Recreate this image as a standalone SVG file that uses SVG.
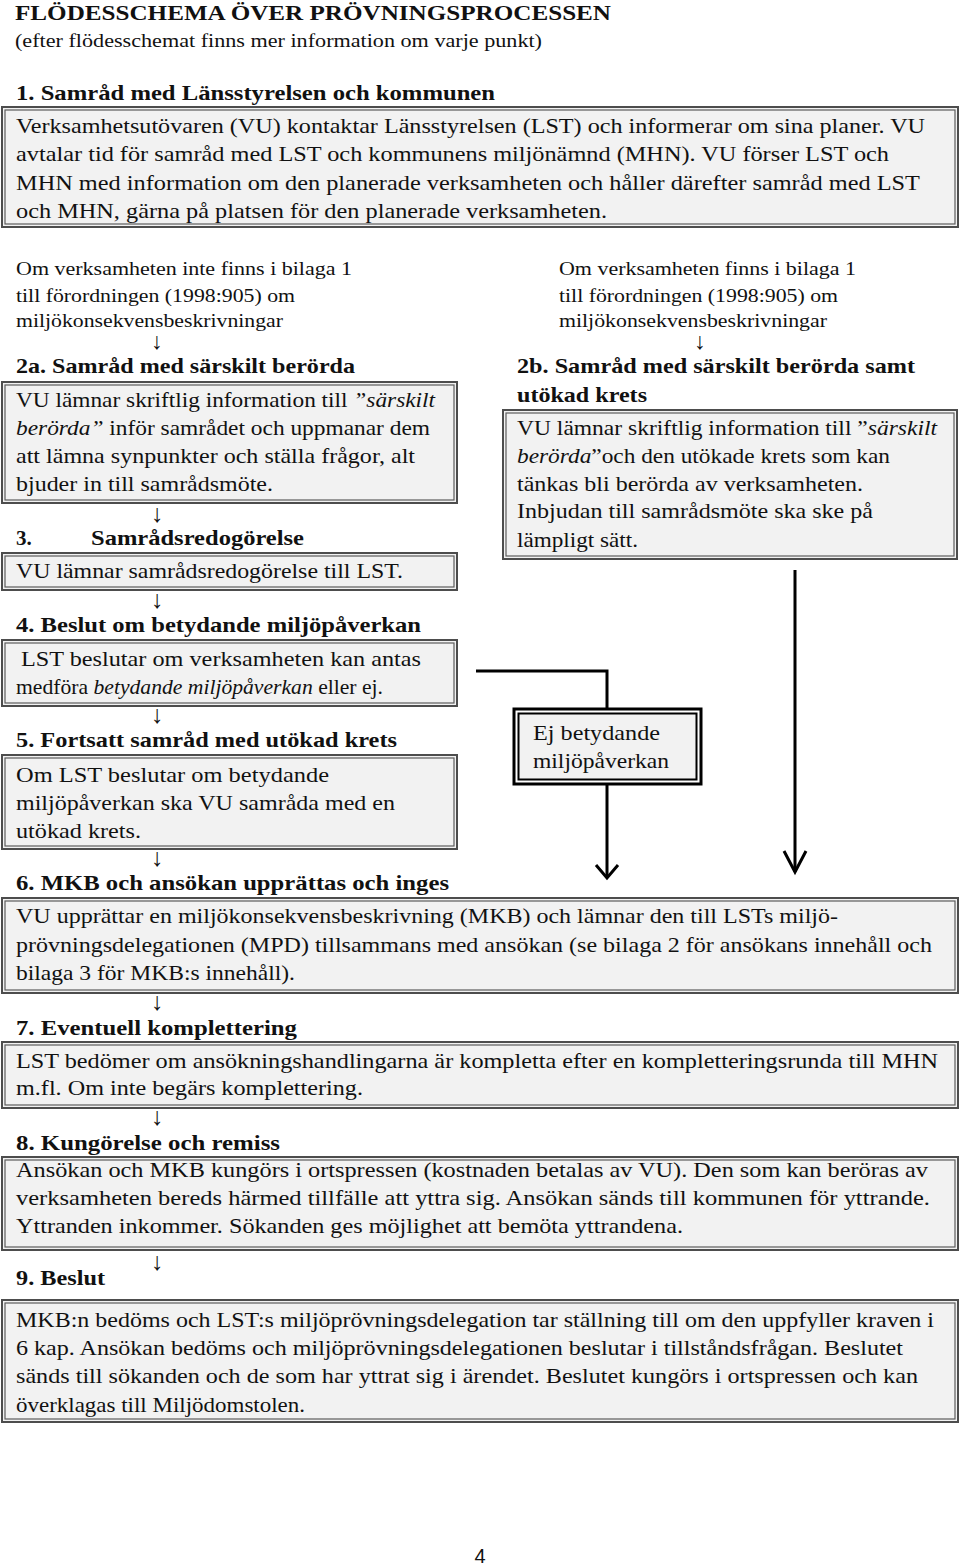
<svg xmlns="http://www.w3.org/2000/svg" width="960" height="1568" viewBox="0 0 960 1568">
<style>
text{font-family:"Liberation Serif","Times New Roman",serif;fill:#111}
.t{font-size:21px;font-weight:bold}
.st{font-size:18px}
.h{font-size:21px;font-weight:bold}
.b{font-size:21px}
.c{font-size:19px}
.arr{font-size:25px;text-anchor:middle}
.arr2{font-size:23px;text-anchor:middle}
.i{font-style:italic}
.box{fill:#f2f2f2;stroke:#4d4d4d;stroke-width:2}
.inner{fill:none;stroke:#5c5c5c;stroke-width:1.2}
.conn{fill:none;stroke:#000;stroke-width:3}
.pg{font-family:"Liberation Sans",Arial,sans-serif;font-size:20px;text-anchor:middle}
</style>
<defs>
<marker id="vA" markerUnits="userSpaceOnUse" orient="auto" refX="0" refY="0" markerWidth="30" markerHeight="30" overflow="visible">
<path d="M-13,-11 L0,0 L-13,11" fill="none" stroke="#000" stroke-width="3"/>
</marker>
<marker id="vB" markerUnits="userSpaceOnUse" orient="auto" refX="0" refY="0" markerWidth="30" markerHeight="30" overflow="visible">
<path d="M-21,-11 L0,0 L-21,11" fill="none" stroke="#000" stroke-width="3"/>
</marker>
</defs>
<rect width="960" height="1568" fill="#fff"/>

<g id="header">
<text class="t" x="15" y="20" textLength="596" lengthAdjust="spacingAndGlyphs">FLÖDESSCHEMA ÖVER PRÖVNINGSPROCESSEN</text>
<text class="st" x="15" y="47" textLength="527" lengthAdjust="spacingAndGlyphs">(efter flödesschemat finns mer information om varje punkt)</text>
</g>

<g id="n1">
<text class="h" x="16" y="100" textLength="479" lengthAdjust="spacingAndGlyphs">1. Samråd med Länsstyrelsen och kommunen</text>
<rect class="box" x="2" y="107" width="956" height="120"/>
<rect class="inner" x="5" y="110" width="950" height="114"/>
<text class="b" x="16" y="133" textLength="909" lengthAdjust="spacingAndGlyphs">Verksamhetsutövaren (VU) kontaktar Länsstyrelsen (LST) och informerar om sina planer. VU</text>
<text class="b" x="16" y="161" textLength="873" lengthAdjust="spacingAndGlyphs">avtalar tid för samråd med LST och kommunens miljönämnd (MHN). VU förser LST och</text>
<text class="b" x="16" y="190" textLength="904" lengthAdjust="spacingAndGlyphs">MHN med information om den planerade verksamheten och håller därefter samråd med LST</text>
<text class="b" x="16" y="218" textLength="591" lengthAdjust="spacingAndGlyphs">och MHN, gärna på platsen för den planerade verksamheten.</text>
</g>

<g id="condLeft">
<text class="c" x="16" y="275" textLength="336" lengthAdjust="spacingAndGlyphs">Om verksamheten inte finns i bilaga 1</text>
<text class="c" x="16" y="302" textLength="279" lengthAdjust="spacingAndGlyphs">till förordningen (1998:905) om</text>
<text class="c" x="16" y="327" textLength="267" lengthAdjust="spacingAndGlyphs">miljökonsekvensbeskrivningar</text>
</g>

<g id="condRight">
<text class="c" x="559" y="275" textLength="297" lengthAdjust="spacingAndGlyphs">Om verksamheten finns i bilaga 1</text>
<text class="c" x="559" y="302" textLength="279" lengthAdjust="spacingAndGlyphs">till förordningen (1998:905) om</text>
<text class="c" x="559" y="327" textLength="268" lengthAdjust="spacingAndGlyphs">miljökonsekvensbeskrivningar</text>
</g>

<g id="n2a">
<text class="h" x="16" y="373" textLength="339" lengthAdjust="spacingAndGlyphs">2a. Samråd med särskilt berörda</text>
<rect class="box" x="2" y="382" width="455" height="121"/>
<rect class="inner" x="5" y="385" width="449" height="115"/>
<text class="b" x="16" y="407" textLength="419" lengthAdjust="spacingAndGlyphs">VU lämnar skriftlig information till <tspan class="i">”särskilt</tspan></text>
<text class="b" x="16" y="435" textLength="414" lengthAdjust="spacingAndGlyphs"><tspan class="i">berörda”</tspan> inför samrådet och uppmanar dem</text>
<text class="b" x="16" y="463" textLength="399" lengthAdjust="spacingAndGlyphs">att lämna synpunkter och ställa frågor, alt</text>
<text class="b" x="16" y="491" textLength="257" lengthAdjust="spacingAndGlyphs">bjuder in till samrådsmöte.</text>
</g>

<g id="n2b">
<text class="h" x="517" y="373" textLength="398" lengthAdjust="spacingAndGlyphs">2b. Samråd med särskilt berörda samt</text>
<text class="h" x="517" y="402" textLength="130" lengthAdjust="spacingAndGlyphs">utökad krets</text>
<rect class="box" x="503" y="410" width="454" height="149"/>
<rect class="inner" x="506" y="413" width="448" height="143"/>
<text class="b" x="517" y="435" textLength="420" lengthAdjust="spacingAndGlyphs">VU lämnar skriftlig information till ”<tspan class="i">särskilt</tspan></text>
<text class="b" x="517" y="463" textLength="373" lengthAdjust="spacingAndGlyphs"><tspan class="i">berörda</tspan>”och den utökade krets som kan</text>
<text class="b" x="517" y="491" textLength="346" lengthAdjust="spacingAndGlyphs">tänkas bli berörda av verksamheten.</text>
<text class="b" x="517" y="518" textLength="356" lengthAdjust="spacingAndGlyphs">Inbjudan till samrådsmöte ska ske på</text>
<text class="b" x="517" y="547" textLength="121" lengthAdjust="spacingAndGlyphs">lämpligt sätt.</text>
</g>

<g id="n3">
<text class="h" x="16" y="545">3.</text>
<text class="h" x="91" y="545" textLength="213" lengthAdjust="spacingAndGlyphs">Samrådsredogörelse</text>
<rect class="box" x="2" y="553" width="455" height="37"/>
<rect class="inner" x="5" y="556" width="449" height="31"/>
<text class="b" x="16" y="578" textLength="387" lengthAdjust="spacingAndGlyphs">VU lämnar samrådsredogörelse till LST.</text>
</g>

<g id="n4">
<text class="h" x="16" y="632" textLength="405" lengthAdjust="spacingAndGlyphs">4. Beslut om betydande miljöpåverkan</text>
<rect class="box" x="2" y="640" width="455" height="66"/>
<rect class="inner" x="5" y="643" width="449" height="60"/>
<text class="b" x="21" y="666" textLength="400" lengthAdjust="spacingAndGlyphs">LST beslutar om verksamheten kan antas</text>
<text class="b" x="16" y="694" textLength="367" lengthAdjust="spacingAndGlyphs">medföra <tspan class="i">betydande miljöpåverkan</tspan> eller ej.</text>
</g>

<g id="nEj">
<rect x="514" y="709" width="187" height="75" fill="#fff" stroke="#000" stroke-width="3"/>
<rect x="518.5" y="713.5" width="178" height="66" fill="#f2f2f2" stroke="#000" stroke-width="2"/>
<text class="b" x="533" y="740" textLength="127" lengthAdjust="spacingAndGlyphs">Ej betydande</text>
<text class="b" x="533" y="768" textLength="136" lengthAdjust="spacingAndGlyphs">miljöpåverkan</text>
</g>

<g id="n5">
<text class="h" x="16" y="747" textLength="381" lengthAdjust="spacingAndGlyphs">5. Fortsatt samråd med utökad krets</text>
<rect class="box" x="2" y="755" width="455" height="94"/>
<rect class="inner" x="5" y="758" width="449" height="88"/>
<text class="b" x="16" y="782" textLength="313" lengthAdjust="spacingAndGlyphs">Om LST beslutar om betydande</text>
<text class="b" x="16" y="810" textLength="379" lengthAdjust="spacingAndGlyphs">miljöpåverkan ska VU samråda med en</text>
<text class="b" x="16" y="838" textLength="125" lengthAdjust="spacingAndGlyphs">utökad krets.</text>
</g>

<g id="n6">
<text class="h" x="16" y="890" textLength="433" lengthAdjust="spacingAndGlyphs">6. MKB och ansökan upprättas och inges</text>
<rect class="box" x="2" y="898" width="956" height="95"/>
<rect class="inner" x="5" y="901" width="950" height="89"/>
<text class="b" x="16" y="923" textLength="822" lengthAdjust="spacingAndGlyphs">VU upprättar en miljökonsekvensbeskrivning (MKB) och lämnar den till LSTs miljö-</text>
<text class="b" x="16" y="952" textLength="916" lengthAdjust="spacingAndGlyphs">prövningsdelegationen (MPD) tillsammans med ansökan (se bilaga 2 för ansökans innehåll och</text>
<text class="b" x="16" y="980" textLength="279" lengthAdjust="spacingAndGlyphs">bilaga 3 för MKB:s innehåll).</text>
</g>

<g id="n7">
<text class="h" x="16" y="1035" textLength="281" lengthAdjust="spacingAndGlyphs">7. Eventuell komplettering</text>
<rect class="box" x="2" y="1042" width="956" height="66"/>
<rect class="inner" x="5" y="1045" width="950" height="60"/>
<text class="b" x="16" y="1068" textLength="922" lengthAdjust="spacingAndGlyphs">LST bedömer om ansökningshandlingarna är kompletta efter en kompletteringsrunda till MHN</text>
<text class="b" x="16" y="1095" textLength="347" lengthAdjust="spacingAndGlyphs">m.fl. Om inte begärs komplettering.</text>
</g>

<g id="n8">
<text class="h" x="16" y="1150" textLength="264" lengthAdjust="spacingAndGlyphs">8. Kungörelse och remiss</text>
<rect class="box" x="2" y="1157" width="956" height="93"/>
<rect class="inner" x="5" y="1160" width="950" height="87"/>
<text class="b" x="16" y="1177" textLength="912" lengthAdjust="spacingAndGlyphs">Ansökan och MKB kungörs i ortspressen (kostnaden betalas av VU). Den som kan beröras av</text>
<text class="b" x="16" y="1205" textLength="914" lengthAdjust="spacingAndGlyphs">verksamheten bereds härmed tillfälle att yttra sig. Ansökan sänds till kommunen för yttrande.</text>
<text class="b" x="16" y="1233" textLength="667" lengthAdjust="spacingAndGlyphs">Yttranden inkommer. Sökanden ges möjlighet att bemöta yttrandena.</text>
</g>

<g id="n9">
<text class="h" x="16" y="1285" textLength="89" lengthAdjust="spacingAndGlyphs">9. Beslut</text>
<rect class="box" x="2" y="1300" width="956" height="122"/>
<rect class="inner" x="5" y="1303" width="950" height="116"/>
<text class="b" x="16" y="1327" textLength="918" lengthAdjust="spacingAndGlyphs">MKB:n bedöms och LST:s miljöprövningsdelegation tar ställning till om den uppfyller kraven i</text>
<text class="b" x="16" y="1355" textLength="887" lengthAdjust="spacingAndGlyphs">6 kap. Ansökan bedöms och miljöprövningsdelegationen beslutar i tillståndsfrågan. Beslutet</text>
<text class="b" x="16" y="1383" textLength="902" lengthAdjust="spacingAndGlyphs">sänds till sökanden och de som har yttrat sig i ärendet. Beslutet kungörs i ortspressen och kan</text>
<text class="b" x="16" y="1412" textLength="289" lengthAdjust="spacingAndGlyphs">överklagas till Miljödomstolen.</text>
</g>

<g id="connectors">
<text class="arr2" x="157" y="349">↓</text>
<text class="arr2" x="700" y="349">↓</text>
<text class="arr" x="157" y="522">↓</text>
<text class="arr" x="157" y="608">↓</text>
<text class="arr" x="157" y="723">↓</text>
<text class="arr" x="157" y="866">↓</text>
<text class="arr" x="157" y="1010">↓</text>
<text class="arr" x="157" y="1125">↓</text>
<text class="arr" x="157" y="1270">↓</text>
<polyline class="conn" points="476,671 607,671 607,708"/>
<line class="conn" x1="607" y1="785" x2="607" y2="878" marker-end="url(#vA)"/>
<line class="conn" x1="795" y1="570" x2="795" y2="872" marker-end="url(#vB)"/>
</g>

<text class="pg" x="480" y="1563">4</text>
</svg>
